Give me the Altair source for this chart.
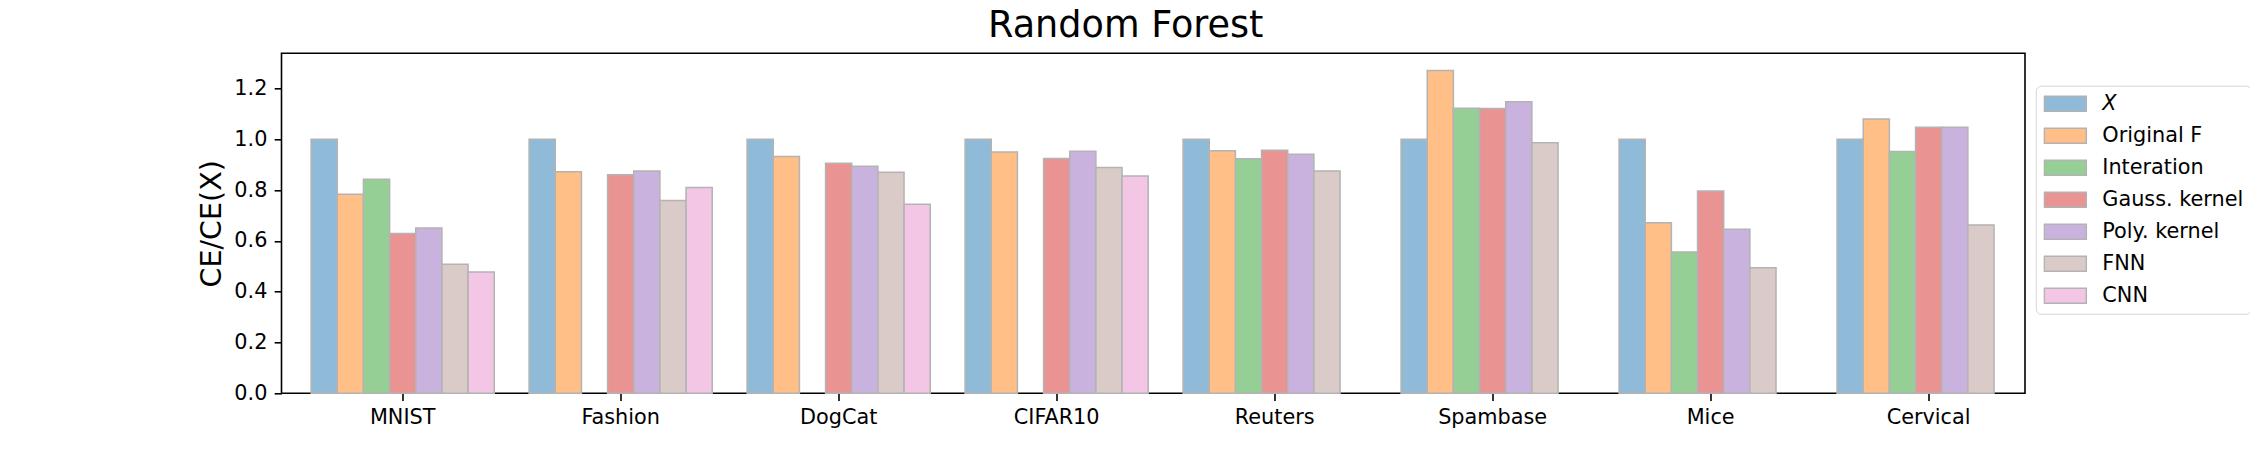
import altair as alt
import pandas as pd

datasets = ["MNIST", "Fashion", "DogCat", "CIFAR10", "Reuters", "Spambase", "Mice", "Cervical"]
methods = ["X", "Original F", "Interation", "Gauss. kernel", "Poly. kernel", "FNN", "CNN"]

x_vals = [1.0, 1.0, 1.0, 1.0, 1.0, 1.0, 1.0, 1.0]
orig_f = [0.784, 0.872, 0.932, 0.950, 0.955, 1.271, 0.671, 1.080]
interation = [0.843, None, None, None, 0.923, 1.122, 0.556, 0.952]
gauss = [0.629, 0.860, 0.906, 0.924, 0.957, 1.121, 0.796, 1.047]
poly = [0.651, 0.875, 0.894, 0.953, 0.941, 1.148, 0.646, 1.047]
fnn = [0.508, 0.759, 0.870, 0.889, 0.875, 0.986, 0.494, 0.663]
cnn = [0.478, 0.810, 0.744, 0.856, None, None, None, None]

colors = ["#8fbbd9", "#ffbf86", "#95cf95", "#ea9393", "#c9b3de", "#dacbc8", "#f2c6e4"]
y_ticks = [0.0, 0.2, 0.4, 0.6, 0.8, 1.0, 1.2]

series = [x_vals, orig_f, interation, gauss, poly, fnn, cnn]
rows = []
for m, vals in zip(methods, series):
    for d, v in zip(datasets, vals):
        if v is not None:
            rows.append({"dataset": d, "method": m, "value": v})
df = pd.DataFrame(rows)

FONT = "DejaVu Sans"

chart = alt.Chart(df).mark_bar(stroke="#b3b3b3", strokeWidth=1.5, opacity=1).encode(
    x=alt.X(
        "dataset:N",
        sort=datasets,
        scale=alt.Scale(domain=datasets, paddingInner=0.16, paddingOuter=0.079, align=0.86),
        axis=alt.Axis(
            title=None, labelAngle=0, labelFontSize=20.8, labelFont=FONT, labelColor="black",
            tickSize=7.3, tickWidth=1.6, tickColor="black", labelPadding=7,
            domain=False, grid=False,
        ),
    ),
    xOffset=alt.XOffset(
        "method:N",
        sort=methods,
        scale=alt.Scale(domain=methods, paddingInner=0, paddingOuter=0),
    ),
    y=alt.Y(
        "value:Q",
        scale=alt.Scale(domain=[0, 1.3386], nice=False, zero=True),
        axis=alt.Axis(
            values=y_ticks, format=".1f", grid=False, title="CE/CE(X)",
            labelFontSize=20.8, labelFont=FONT, labelColor="black",
            tickSize=7.3, tickWidth=1.6, tickColor="black", labelPadding=7.3,
            domain=False,
            titleFont=FONT, titleFontSize=28.5, titleFontWeight="normal", titleColor="black",
            titleAngle=270, titleX=-61.5, titleY=170, titleAlign="center",
            titleBaseline="alphabetic",
        ),
    ),
    color=alt.Color(
        "method:N",
        sort=methods,
        scale=alt.Scale(domain=methods, range=colors),
        legend=alt.Legend(
            title=None, orient="none", legendX=1754.3, legendY=32.4,
            symbolType="M-1,-0.357L1,-0.357L1,0.357L-1,0.357Z", symbolSize=1764,
            symbolStrokeColor="#b3b3b3", symbolStrokeWidth=1.5, symbolOpacity=1,
            clipHeight=21, rowPadding=10, padding=7.5, labelOffset=15,
            labelFontSize=20.8, labelFont=FONT, labelColor="black", labelLimit=400,
            labelFontStyle=alt.ExprRef("datum.label == 'X' ? 'italic' : 'normal'"),
            strokeColor="#d6d6d6", cornerRadius=5, fillColor="white",
        ),
    ),
).properties(
    width=1743.5,
    height=340,
    padding={"left": 281.5, "top": 53.3, "right": 225, "bottom": 56.7},
    autosize="none",
    title=alt.TitleParams(
        "Random Forest", fontSize=36.6, font=FONT, fontWeight="normal", color="black",
        dx=-27.5, offset=9, anchor="middle", frame="group",
    ),
).configure(
    background="white"
).configure_view(
    stroke="black", strokeWidth=1.6
)

chart.save("out.html", embed_options={"renderer": "svg", "actions": False})
